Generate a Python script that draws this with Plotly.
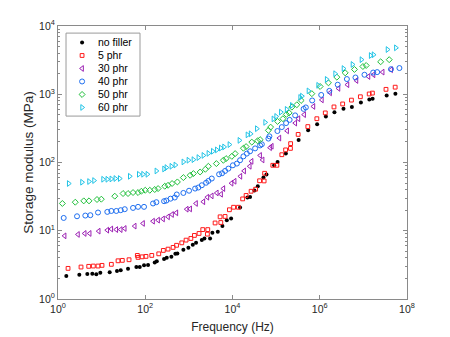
import plotly.graph_objects as go

# ---------------- data ----------------
freq_nofiller = [1.55, 3.08, 4.70, 6.12, 7.55, 9.33, 15.3, 22.5, 27.4, 40.3, 62.5, 74.8, 93.8, 116, 165,
                 184, 270, 311, 397, 490, 545, 748, 975, 1230, 1460, 1980, 2270, 3060, 3460, 4600,
                 5870, 7400, 9290, 14900, 22000, 25300, 31800, 38000, 51200, 60000, 90000, 108000,
                 167000, 328000, 542000, 871000, 1.38e6, 2.17e6, 3.50e6, 5.45e6, 8.77e6, 1.37e7,
                 1.63e7, 3.42e7, 5.42e7]
mod_nofiller = [2.17, 2.27, 2.32, 2.34, 2.30, 2.42, 2.46, 2.57, 2.63, 2.77, 2.94, 2.94, 3.11, 3.14, 3.44,
                3.56, 3.85, 4.02, 4.15, 4.59, 4.66, 5.26, 5.62, 6.22, 6.65, 7.29, 7.71, 7.71, 9.31, 9.64,
                11.7, 14.3, 15.1, 21.9, 30.7, 31.3, 38.8, 44.9, 60.1, 66.5, 91.0, 102,
                135, 213, 296, 364, 473, 547, 614, 652, 759, 839,
                859, 960, 1020]

freq_5phr = [1.70, 3.37, 5.06, 6.45, 8.27, 10.2, 16.7, 23.8, 29.8, 42.5, 65.9, 68.4, 84.5, 104, 141,
             204, 260, 333, 434, 522, 687, 863, 1110, 1340, 1710, 2080, 2660, 2710, 3990, 5200,
             5390, 6760, 8490, 10600, 13600, 17100, 20500, 26700, 33900, 41800, 53100, 54500, 84000,
             104000, 135000, 165000, 213000, 215000, 320000, 533000, 858000, 1.34e6, 2.12e6, 3.35e6,
             5.33e6, 8.53e6, 1.36e7, 1.61e7, 3.30e7, 5.36e7]
mod_5phr = [2.81, 2.94, 3.01, 3.04, 3.04, 3.11, 3.22, 3.63, 3.68, 3.76, 4.35, 4.07, 4.15, 4.21, 4.35,
            4.59, 5.15, 5.38, 5.70, 6.12, 6.65, 7.29, 7.71, 8.54, 9.13, 10.4, 8.92, 10.4, 13.0, 16.0,
            13.2, 16.2, 20.3, 22.1, 22.1, 29.3, 32.9, 37.9, 40.6, 54.0, 53.7, 69.5, 91.0,
            91.0, 130, 153, 161, 189, 258, 336, 438, 533, 652, 721,
            820, 919, 1010, 1040, 1180, 1270]

freq_30phr = [1.42, 2.87, 4.10, 5.33, 8.58, 13.5, 16.7, 21.7, 27.4, 33.9, 57.4, 89.1, 151, 197, 256,
              333, 412, 517, 895, 1070, 1460, 2150, 2660, 3350, 4370, 5480, 6180, 9530, 11200, 15200,
              18500, 24900, 27400, 43000, 49000, 72800, 79600, 119000, 179000, 275000, 325000, 439000,
              717000, 1.12e6, 1.73e6, 2.69e6, 4.32e6, 6.95e6, 1.31e7, 1.71e7, 2.77e7, 4.34e7]
mod_30phr = [8.42, 8.83, 9.13, 9.13, 9.86, 10.2, 10.6, 10.4, 10.4, 10.8, 11.7, 12.8, 13.8, 14.3, 14.9,
             16.0, 17.3, 18.3, 20.7, 20.9, 25.1, 26.6, 31.0, 32.4, 35.8, 34.3, 41.5, 49.7, 53.1, 62.8,
             75.2, 88.0, 104, 127, 109, 165, 173, 228, 291, 378, 438, 503,
             663, 826, 1050, 1220, 1380, 1590, 1820, 1930, 2110, 2290]

freq_40phr = [1.35, 2.73, 4.23, 5.51, 8.27, 13.5, 16.7, 21.7, 27.4, 33.9, 52.5, 68.4, 93.8, 151, 180,
              270, 305, 380, 475, 528, 748, 1010, 1390, 1650, 1980, 2480, 2800, 3350, 4930, 5770, 6760,
              8050, 10200, 12600, 14900, 17800, 21300, 25300, 33000, 43000, 47000, 66600, 70200, 107000,
              135000, 169000, 204000, 273000, 427000, 480000, 670000, 1.08e6, 1.66e6, 2.58e6, 4.19e6,
              6.59e6, 1.06e7, 1.68e7, 2.07e7, 4.30e7, 6.70e7]
mod_40phr = [15.4, 16.3, 16.7, 16.9, 18.5, 18.9, 19.5, 19.5, 20.0, 20.7, 21.6, 22.4, 22.4, 25.1, 26.2,
             27.1, 27.7, 29.5, 30.7, 34.0, 35.8, 38.6, 41.5, 43.0, 46.4, 50.5, 53.7, 58.2, 67.2, 69.5, 75.2,
             81.4, 91.0, 96.4, 108, 123, 135, 146, 161, 178, 185, 224, 242, 289,
             330, 378, 421, 490, 610, 641, 811, 977, 1120, 1380, 1670,
             1760, 1930, 2080, 2110, 2330, 2420]

freq_50phr = [1.26, 2.49, 3.89, 5.14, 7.84, 9.84, 20.0, 31.0, 40.3, 52.5, 68.4, 81.4, 100, 127, 165,
              197, 280, 333, 412, 545, 748, 1070, 1270, 1810, 2390, 2800, 4270, 6180, 7130, 9640,
              11500, 17800, 20500, 27700, 37600, 43000, 66600, 74800, 108000, 143000, 172000, 199000,
              229000, 298000, 374000, 659000, 1.02e6, 1.58e6, 2.47e6, 3.83e6, 6.25e6, 9.75e6, 1.16e7,
              2.49e7, 3.91e7]
mod_50phr = [25.1, 26.2, 27.4, 27.4, 28.7, 29.0, 32.1, 35.1, 35.1, 36.3, 36.3, 37.9, 39.2, 39.2, 40.2,
             41.5, 44.9, 46.4, 49.2, 51.9, 60.1, 65.0, 68.8, 72.6, 79.6, 88.0, 96.4, 108, 114, 123,
             135, 162, 171, 199, 208, 216, 296, 330, 400, 438, 507, 533,
             648, 702, 811, 1020, 1300, 1470, 1780, 2060, 2310, 2550, 2640,
             2990, 3210]

freq_60phr = [1.76, 3.55, 5.14, 6.70, 10.8, 13.5, 16.7, 20.6, 26.0, 44.1, 71.0, 89.1, 112, 180, 270,
              305, 397, 490, 748, 975, 1270, 1650, 2150, 2800, 3530, 4370, 5390, 6410, 8490, 14400,
              22000, 26000, 36100, 56000, 86700, 100000, 128000, 174000, 229000, 355000, 389000, 551000,
              918000, 1.44e6, 2.25e6, 3.50e6, 5.62e6, 9.04e6, 1.47e7, 1.71e7, 3.57e7, 5.56e7]
mod_60phr = [49.2, 51.4, 52.6, 54.4, 56.8, 56.8, 57.4, 58.2, 58.2, 62.8, 67.2, 67.2, 67.2, 75.2, 80.4,
             84.2, 88.0, 91.9, 102, 108, 110, 118, 127, 136, 146, 153, 163, 169, 183, 211,
             254, 263, 313, 387, 435, 473, 547, 600, 686, 898, 938, 1120,
             1350, 1650, 2000, 2380, 2730, 3210, 3690, 3790, 4520, 4790]

series_names = ["no filler", "5 phr", "30 phr", "40 phr", "50 phr", "60 phr"]
x_tick_vals = [1, 1e2, 1e4, 1e6, 1e8]
x_tick_text = ["10<sup>0</sup>", "10<sup>2</sup>", "10<sup>4</sup>", "10<sup>6</sup>", "10<sup>8</sup>"]
y_tick_vals = [1, 10, 100, 1000, 10000]
y_tick_text = ["10<sup>0</sup>", "10<sup>1</sup>", "10<sup>2</sup>", "10<sup>3</sup>", "10<sup>4</sup>"]

# ---------------- styles ----------------
FONT = "Liberation Sans, Arial, Helvetica, sans-serif"
AXIS_COLOR = "#8a8a8a"
TEXT_COLOR = "#262626"

styles = [
    dict(symbol="circle", size=4, color="#000000", line=dict(width=0)),
    dict(symbol="square-open", size=3.8, color="#ff1a1a", line=dict(width=1)),
    dict(symbol="triangle-left-open", size=5, color="#9b1fb3", line=dict(width=1)),
    dict(symbol="circle-open", size=5, color="#1f6ff0", line=dict(width=1)),
    dict(symbol="diamond-open", size=4.6, color="#1fbf3a", line=dict(width=1)),
    dict(symbol="triangle-right-open", size=5, color="#1fc3e6", line=dict(width=1)),
]

xs = [freq_nofiller, freq_5phr, freq_30phr, freq_40phr, freq_50phr, freq_60phr]
ys = [mod_nofiller, mod_5phr, mod_30phr, mod_40phr, mod_50phr, mod_60phr]

fig = go.Figure()
for name, x, y, st in zip(series_names, xs, ys, styles):
    fig.add_trace(go.Scatter(x=x, y=y, mode="markers", name=name, marker=st,
                             showlegend=False, cliponaxis=True))

# ---------------- custom compact legend (overlay axes in paper units) ----------------
leg_x0, leg_x1, leg_top, leg_bot = 0.023, 0.235, 0.974, 0.670
row_top, row_step = 0.9396, 0.0476
marker_x, text_x = 0.069, 0.108
for i, (name, st) in enumerate(zip(series_names, styles)):
    yy = row_top - i * row_step
    fig.add_trace(go.Scatter(x=[marker_x], y=[yy], mode="markers", marker=st,
                             xaxis="x2", yaxis="y2", showlegend=False, hoverinfo="skip"))
    fig.add_annotation(x=text_x, y=yy, xref="paper", yref="paper", text=name,
                       showarrow=False, xanchor="left", yanchor="middle",
                       font=dict(family=FONT, size=10.5, color="#000000"))

fig.add_shape(type="rect", xref="paper", yref="paper", x0=leg_x0, x1=leg_x1,
              y0=leg_bot, y1=leg_top, line=dict(color="#9a9a9a", width=1),
              fillcolor="white", layer="below")

minor_y = [m * 10 ** k for k in range(4) for m in range(2, 10)]

fig.update_layout(
    width=450, height=337,
    margin=dict(l=58, r=43, t=26, b=38),
    paper_bgcolor="white", plot_bgcolor="white",
    font=dict(family=FONT, color=TEXT_COLOR),
    xaxis=dict(type="log", range=[0, 8], tickvals=x_tick_vals, ticktext=x_tick_text,
               ticks="inside", ticklen=4, tickwidth=1, tickcolor=AXIS_COLOR,
               showline=True, linecolor=AXIS_COLOR, linewidth=1, mirror="ticks",
               showgrid=False, zeroline=False, tickfont=dict(size=10.5, color=TEXT_COLOR),
               title=dict(text="Frequency (Hz)", font=dict(size=12, color=TEXT_COLOR), standoff=9),
               automargin=False),
    yaxis=dict(type="log", range=[0, 4], tickvals=y_tick_vals, ticktext=y_tick_text,
               ticks="inside", ticklen=4, tickwidth=1, tickcolor=AXIS_COLOR,
               showline=True, linecolor=AXIS_COLOR, linewidth=1, mirror="ticks",
               showgrid=False, zeroline=False, tickfont=dict(size=10.5, color=TEXT_COLOR),
               minor=dict(tickvals=minor_y, ticks="inside", ticklen=2, tickcolor=AXIS_COLOR,
                          showgrid=False),
               title=dict(text="Storage modulus (MPa)", font=dict(size=13.5, color=TEXT_COLOR),
                          standoff=2),
               automargin=False),
    xaxis2=dict(overlaying="x", range=[0, 1], visible=False, fixedrange=True),
    yaxis2=dict(overlaying="y", range=[0, 1], visible=False, fixedrange=True),
    showlegend=False,
)

fig.write_html("out.html")
